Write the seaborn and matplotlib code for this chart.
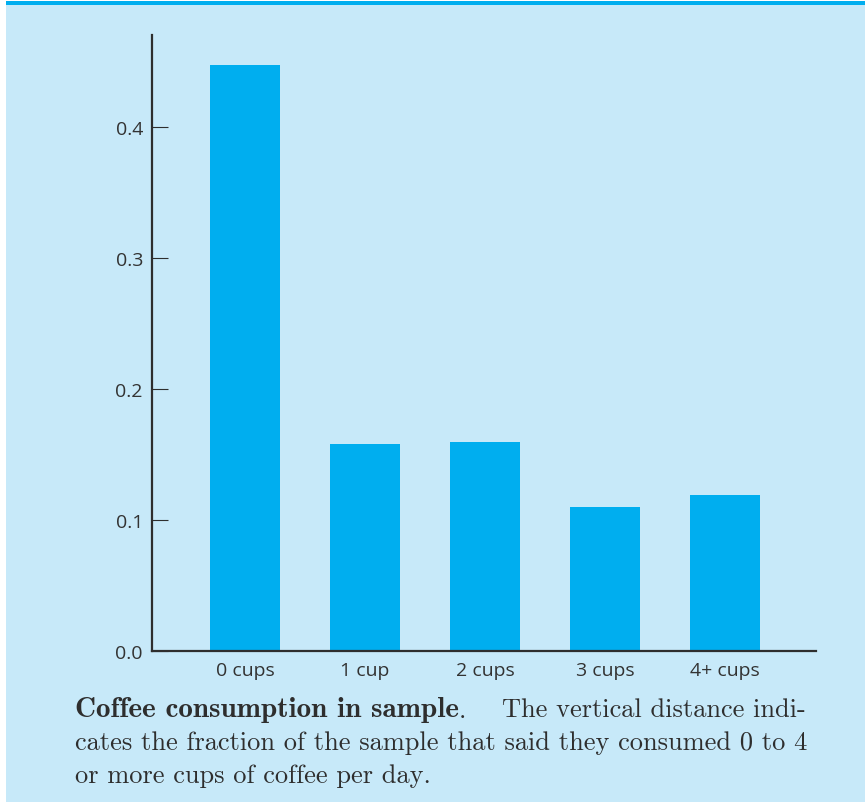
import numpy as np
import pandas as pd
import matplotlib
matplotlib.use("Agg")
import matplotlib.pyplot as plt
import seaborn as sns
from matplotlib.patches import Rectangle

# data
categories = ["0 cups", "1 cup", "2 cups", "3 cups", "4+ cups"]
fractions = [0.448, 0.158, 0.160, 0.110, 0.119]
yticks = [0.0, 0.1, 0.2, 0.3, 0.4]

bg = "#c7e9f9"
bar_color = "#00aeef"
ink = "#2e2e2e"

df = pd.DataFrame({"cups": categories, "fraction": fractions})

fig = plt.figure(figsize=(8.65, 8.03), dpi=100, facecolor="white")

# light panel and the thin top stripe
fig.patches.append(Rectangle((6 / 865, 0), 1, (803 - 6) / 803, transform=fig.transFigure,
                             facecolor=bg, edgecolor="none", zorder=-2))
fig.patches.append(Rectangle((6 / 865, (803 - 6) / 803), 1, 4 / 803, transform=fig.transFigure,
                             facecolor=bar_color, edgecolor="none", zorder=-2))

ax = fig.add_axes([152 / 865, 151 / 803, (816 - 152) / 865, (767 - 151) / 803])
ax.set_facecolor("none")

sns.barplot(data=df, x="cups", y="fraction", color=bar_color, saturation=1,
            width=0.583, ax=ax)

ax.set_xlim(-0.775, 4.758)
ax.set_ylim(0, 0.4706)
ax.set_yticks(yticks)
ax.set_yticklabels([f"{t:.1f}" for t in yticks])
ax.set_xlabel("")
ax.set_ylabel("")

for side in ["top", "right"]:
    ax.spines[side].set_visible(False)
for side in ["left", "bottom"]:
    ax.spines[side].set_color(ink)
    ax.spines[side].set_linewidth(1.6)

ax.tick_params(axis="y", direction="in", length=11.5, width=0.8, color=ink,
               pad=6.5, labelsize=14, labelcolor="#333333")
ax.tick_params(axis="x", length=0, pad=7.5, labelsize=14, labelcolor="#333333")
for lab in ax.get_xticklabels() + ax.get_yticklabels():
    lab.set_fontfamily("Open Sans")

# caption in Computer Modern
cap_size = 19
x0 = 75 / 865
t1 = fig.text(x0, (803 - 717) / 803, "Coffee consumption in sample", fontfamily="cmb10",
              fontsize=21, color=ink, va="baseline")
ax.annotate(".", xy=(1, 0), xycoords=t1, va="bottom",
            ha="left", fontfamily="cmr10", fontsize=cap_size, color=ink,
            annotation_clip=False)
fig.text(806 / 865, (803 - 717) / 803, "The vertical distance indi-", ha="right",
         fontfamily="cmr10", fontsize=cap_size, color=ink, va="baseline")
fig.text(x0, (803 - 750) / 803, "cates the fraction of the sample that said they consumed 0 to 4",
         fontfamily="cmr10", fontsize=cap_size, color=ink, va="baseline")
fig.text(x0, (803 - 783) / 803, "or more cups of coffee per day.",
         fontfamily="cmr10", fontsize=cap_size, color=ink, va="baseline")

fig.savefig("out.png", dpi=100, facecolor="white")
